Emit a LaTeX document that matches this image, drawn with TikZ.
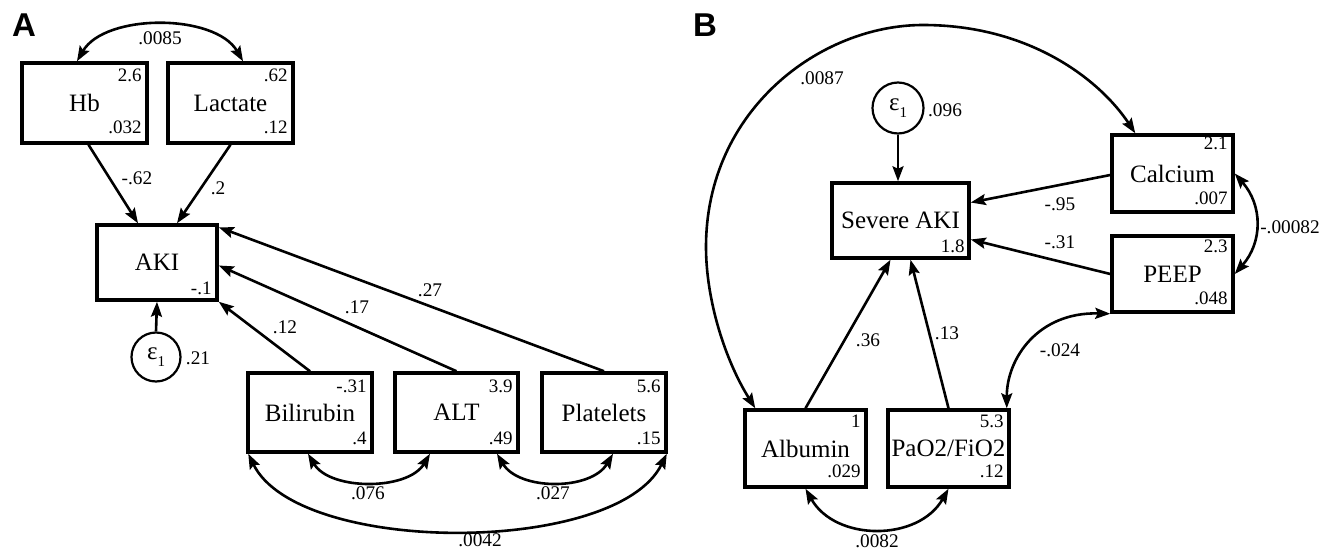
\documentclass[tikz,border=0pt]{standalone}
\usepackage{fontspec}
\setmainfont{Liberation Serif}
\newfontfamily\panelfont{Liberation Sans}
\usetikzlibrary{arrows.meta,calc}
\tikzset{
  x=1pt, y=-1pt,
  box/.style={draw, line width=3.5pt, inner sep=0pt, fill=white, font=\fontsize{25}{27}\selectfont},
  num/.style={anchor=east, inner sep=0pt, font=\fontsize{19}{21}\selectfont},
  lab/.style={inner sep=0pt, font=\fontsize{19.3}{21}\selectfont},
  err/.style={draw, circle, line width=2.2pt, minimum size=49pt, inner sep=0pt, font=\fontsize{25}{27}\selectfont},
  tip/.tip={Stealth[length=15pt, width=11pt, inset=2.5pt]},
  conn/.style={line width=2.6pt, -tip},
  cov/.style={line width=2.6pt, tip-tip},
  panel/.style={inner sep=0pt, font=\panelfont\bfseries\fontsize{33}{35}\selectfont}
}
\newcommand{\epsone}{ε\raisebox{-0.25em}{\fontsize{15}{15}\selectfont 1}}
\begin{document}
\begin{tikzpicture}
\useasboundingbox (0,0) rectangle (1324,551);

% ---------------- Panel A ----------------
\node[panel] (pA) at (24,25) {A};

\node[box, minimum width=125pt, minimum height=80pt] (Hb) at (84.5,103) {Hb};
\node[box, minimum width=125pt, minimum height=80pt] (Lac) at (230.5,103) {Lactate};
\node[box, minimum width=120pt, minimum height=75pt] (AKI) at (157,262.5) {AKI};
\node[box, minimum width=124pt, minimum height=79pt] (Bil) at (310,412.5) {Bilirubin};
\node[box, minimum width=123pt, minimum height=79pt] (ALT) at (456.5,412.5) {ALT};
\node[box, minimum width=124pt, minimum height=79pt] (Plt) at (604,412.5) {Platelets};
\node[err] (eA) at (156,357) {\epsone};

% corner numbers
\node[num] (n1) at ($(Hb.north east)+(-7,14)$) {2.6};
\node[num] (n2) at ($(Hb.south east)+(-7,-17)$) {.032};
\node[num] (n3) at ($(Lac.north east)+(-7,14)$) {.62};
\node[num] (n4) at ($(Lac.south east)+(-7,-17)$) {.12};
\node[num] (n5) at ($(AKI.south east)+(-7,-13)$) {-.1};
\node[num] (n6) at ($(Bil.north east)+(-7,15)$) {-.31};
\node[num] (n7) at ($(Bil.south east)+(-7,-15)$) {.4};
\node[num] (n8) at ($(ALT.north east)+(-7,15)$) {3.9};
\node[num] (n9) at ($(ALT.south east)+(-7,-15)$) {.49};
\node[num] (n10) at ($(Plt.north east)+(-7,15)$) {5.6};
\node[num] (n11) at ($(Plt.south east)+(-7,-15)$) {.15};

% paths
\draw[conn] ([xshift=4pt]Hb.south) -- ([xshift=-19pt]AKI.north);
\draw[conn] (Lac.south) -- ([xshift=20pt]AKI.north);
\draw[conn] (eA.north) -- (AKI.south);
\draw[conn] (Bil.north) -- (AKI.south east);
\draw[conn] (ALT.north) -- ([yshift=-3pt]AKI.east);
\draw[conn] (Plt.north) -- ([yshift=-4pt]AKI.north east);

% covariances
\draw[cov] ([xshift=-7.5pt]Hb.north) .. controls +(28,-48) and +(-28,-48) .. ([xshift=12.5pt]Lac.north);
\draw[cov] ([xshift=-2pt]Bil.south) .. controls +(22,37) and +(-22,37) .. ([xshift=-26.5pt]ALT.south);
\draw[cov] ([xshift=40.5pt]ALT.south) .. controls +(22,37) and +(-22,37) .. ([xshift=9pt]Plt.south);
\draw[cov] ([xshift=2pt]Bil.south west) .. controls +(50,102) and +(-50,102) .. ([xshift=-1pt]Plt.south east);

% labels
\node[lab] (l1) at (160,38) {.0085};
\node[lab] (l2) at (137,178) {-.62};
\node[lab] (l3) at (218,188) {.2};
\node[lab] (l4) at (198,358) {.21};
\node[lab] (l5) at (285,327) {.12};
\node[lab] (l6) at (357,307) {.17};
\node[lab] (l7) at (430,290) {.27};
\node[lab] (l8) at (368,493) {.076};
\node[lab] (l9) at (553,493) {.027};
\node[lab] (l10) at (480,540) {.0042};

% ---------------- Panel B ----------------
\node[panel] (pB) at (705,25) {B};

\node[box, minimum width=137pt, minimum height=75pt] (Sev) at (900.5,220.5) {Severe AKI};
\node[box, minimum width=121pt, minimum height=77pt] (Cal) at (1172.5,173.5) {Calcium};
\node[box, minimum width=121pt, minimum height=76pt] (PEEP) at (1172.5,274) {PEEP};
\node[box, minimum width=121pt, minimum height=77pt] (Alb) at (805.5,448.5) {Albumin};
\node[box, minimum width=121pt, minimum height=77pt] (PaO) at (948.5,448.5) {PaO2/FiO2};
\node[err, minimum size=51pt] (eB) at (898,108) {\epsone};

\node[num] (m1) at ($(Sev.south east)+(-6,-13)$) {1.8};
\node[num] (m2) at ($(Cal.north east)+(-7,10)$) {2.1};
\node[num] (m3) at ($(Cal.south east)+(-7,-15)$) {.007};
\node[num] (m4) at ($(PEEP.north east)+(-7,12)$) {2.3};
\node[num] (m5) at ($(PEEP.south east)+(-7,-15)$) {.048};
\node[num] (m6) at ($(Alb.north east)+(-7,13)$) {1};
\node[num] (m7) at ($(Alb.south east)+(-7,-17)$) {.029};
\node[num] (m8) at ($(PaO.north east)+(-7,13)$) {5.3};
\node[num] (m9) at ($(PaO.south east)+(-7,-17)$) {.12};

% paths
\draw[conn] (eB.south) -- (eB.south |- Sev.north);
\draw[conn] ([yshift=-1.5pt]Cal.west) -- ([yshift=18pt]Sev.east);
\draw[conn] (PEEP.west) -- ([yshift=-19pt]Sev.east);
\draw[conn] (Alb.north) -- ([xshift=-10pt]Sev.south);
\draw[conn] (PaO.north) -- ([xshift=10pt]Sev.south);

% covariances
\draw[cov] ([xshift=12pt]Alb.north west) .. controls (725,360) and (706,300) .. (706,247)
   .. controls (706,110) and (820,25) .. (923,25)
   .. controls (1030,25) and (1100,80) .. ([xshift=25pt]Cal.north west);
\draw[cov] (Cal.east) .. controls +(28,32) and +(28,-32) .. (PEEP.east);
\draw[cov] ([xshift=-4pt]PaO.north east) .. controls +(0,-50) and +(-72,-2) .. (PEEP.south west);
\draw[cov] (Alb.south) .. controls +(30,53) and +(-30,53) .. (PaO.south);

% labels
\node[lab] (k1) at (822,78) {.0087};
\node[lab] (k2) at (945,110) {.096};
\node[lab] (k3) at (1060,204) {-.95};
\node[lab] (k4) at (1060,242) {-.31};
\node[lab] (k5) at (868,340) {.36};
\node[lab] (k6) at (947,333) {.13};
\node[lab] (k7) at (877,541) {.0082};
\node[lab] (k8) at (1060,350) {-.024};
\node[lab] (k9) at (1290,227) {-.00082};
\end{tikzpicture}
\end{document}
